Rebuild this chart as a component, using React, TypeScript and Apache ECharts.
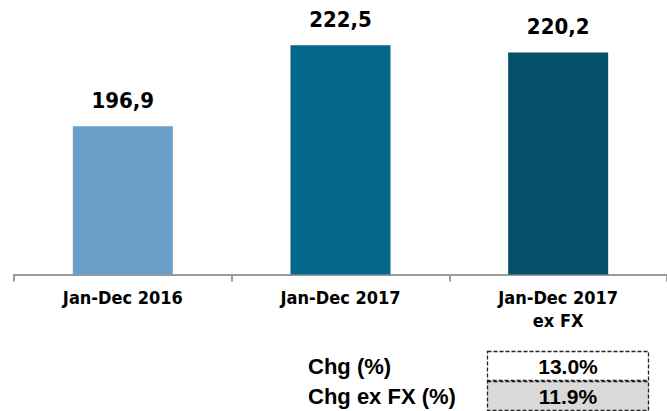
import React, { useEffect, useRef } from "react";
import * as echarts from "echarts";

const categories = ["Jan-Dec 2016", "Jan-Dec 2017", "Jan-Dec 2017\nex FX"];
const values = [196.9, 222.5, 220.2];
const barColors = ["#6A9FC9", "#05678C", "#044F69"];
const tableLabels = ["Chg (%)", "Chg ex FX (%)"];
const tableValues = ["13.0%", "11.9%"];
const tableFills = ["#FFFFFF", "#D9D9D9"];

const condensed = "'Liberation Sans Narrow', 'DejaVu Sans Condensed', 'Roboto Condensed', sans-serif";
const arial = "Liberation Sans, Arial, sans-serif";

export default function App() {
  const ref = useRef<HTMLDivElement>(null);
  useEffect(() => {
    if (!ref.current) return;
    const chart = echarts.init(ref.current, null, { renderer: "svg" });
    const graphics: any[] = [];
    const titles: any[] = [];
    tableLabels.forEach((lab, i) => {
      const y = 351 + i * 30;
      graphics.push({
        type: "rect",
        shape: { x: 487.5, y: y + 0.5, width: 161, height: 29 },
        style: { fill: tableFills[i], stroke: "#222", lineWidth: 1.3, lineDash: [4, 2] },
        z: 1,
      });
      titles.push({
        text: lab,
        left: 308,
        top: y + 2,
        padding: 0,
        textStyle: { fontSize: 22, fontWeight: "bold", fontFamily: arial, color: "#000", lineHeight: 26 },
        z: 10,
      });
      titles.push({
        text: tableValues[i],
        left: 568,
        top: y + 3,
        padding: 0,
        textAlign: "center",
        textStyle: { fontSize: 21, fontWeight: "bold", fontFamily: arial, color: "#000", lineHeight: 24 },
        z: 10,
      });
    });
    chart.setOption({
      animation: false,
      title: titles,
      grid: { left: 14, right: -7, top: 9, height: 265.5, containLabel: false },
      xAxis: {
        type: "category",
        data: categories,
        axisLine: { lineStyle: { color: "#9A9A9A", width: 2 } },
        axisTick: { show: true, length: 7, lineStyle: { color: "#9A9A9A", width: 2 } },
        axisLabel: {
          color: "#000",
          fontWeight: "bold",
          fontSize: 18,
          fontFamily: condensed,
          margin: 11,
          lineHeight: 23,
        },
      },
      yAxis: {
        type: "value",
        min: 150,
        max: 234,
        show: false,
        splitLine: { show: false },
      },
      series: [
        {
          type: "bar",
          barWidth: 100,
          data: values.map((v, i) => ({ value: v, itemStyle: { color: barColors[i] } })),
          label: {
            show: true,
            position: "top",
            distance: 15,
            color: "#000",
            fontWeight: "bold",
            fontSize: 22,
            fontFamily: condensed,
            formatter: (p: any) => p.value.toFixed(1).replace(".", ","),
          },
        },
      ],
      graphic: graphics,
    });
    return () => chart.dispose();
  }, []);
  return (
    <div
      ref={ref}
      style={{ width: 667, height: 411, position: "absolute", left: 0, top: 0 }}
    />
  );
}
